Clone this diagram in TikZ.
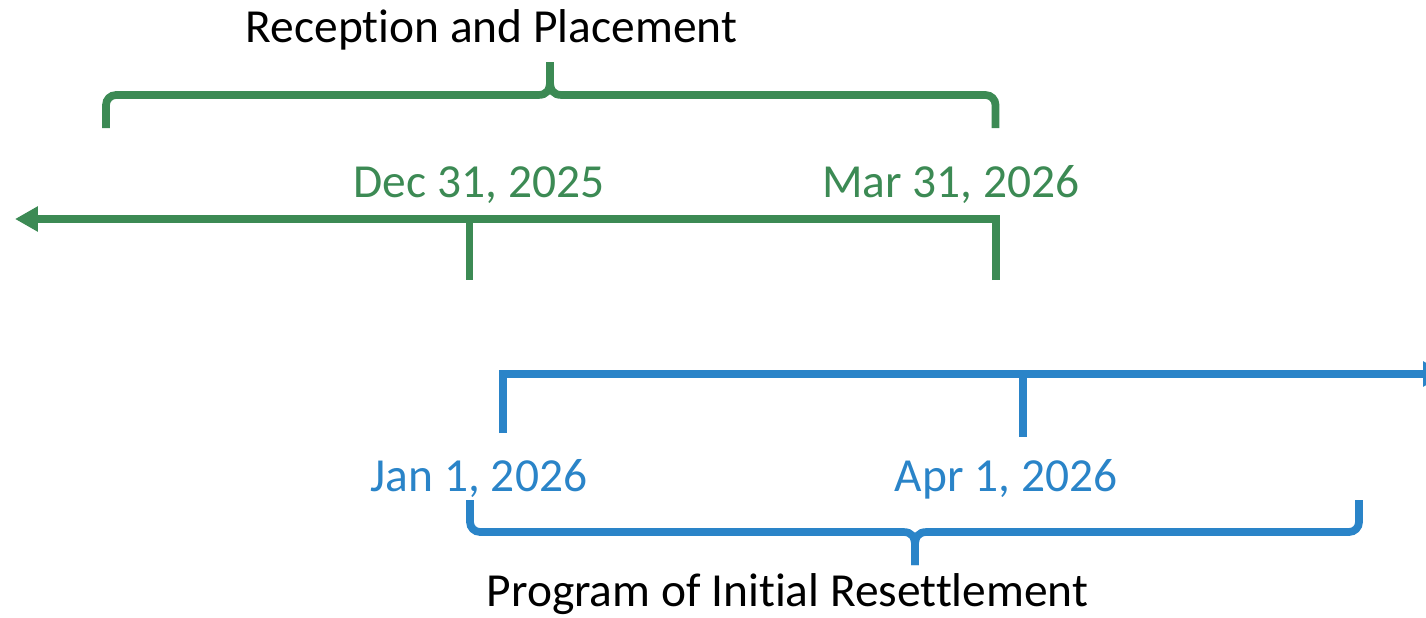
\documentclass[tikz,border=0pt]{standalone}
\usepackage{fontspec}
\setmainfont{Carlito}[RawFeature={-liga;-clig;-dlig}]
\usetikzlibrary{arrows.meta}
\definecolor{rpgreen}{RGB}{60,138,84}
\definecolor{pirblue}{RGB}{42,132,200}

\begin{document}
\begin{tikzpicture}[
  line width=2.2pt,
  lbl/.style={anchor=base,font=\fontsize{13.5}{16}\selectfont},
  tip/.style={-{Triangle[length=0.23cm,width=0.24cm]}}
  ]
\useasboundingbox (0,0) rectangle (14.26,6.17);

% Reception and Placement (green)
\coordinate (mar31end) at (9.96,3.37);
\coordinate (greenleft) at (0.15,3.98);
\coordinate (dec31top) at (4.695,3.98);
\coordinate (dec31bot) at (4.695,3.37);
\draw[rpgreen,tip] (mar31end) |- (greenleft);
\draw[rpgreen] (dec31top) -- (dec31bot);
\node[lbl,rpgreen] (dec31) at (4.79,4.20) {Dec 31, 2025};
\node[lbl,rpgreen] (mar31) at (9.51,4.20) {Mar 31, 2026};

% brace above
\draw[rpgreen] (1.06,4.89) -- (1.06,5.12) arc[start angle=180,end angle=90,radius=0.1]
  -- (5.38,5.22) .. controls (5.47,5.22) and (5.50,5.27) .. (5.50,5.36) -- (5.50,5.55);
\draw[rpgreen] (9.955,4.89) -- (9.955,5.12) arc[start angle=0,end angle=90,radius=0.1]
  -- (5.62,5.22) .. controls (5.53,5.22) and (5.50,5.27) .. (5.50,5.36) -- (5.50,5.55);
\node[lbl] (rptitle) at (4.915,5.75) {Reception and Placement};

% Program of Initial Resettlement (blue)
\coordinate (jan1end) at (5.03,1.84);
\coordinate (blueright) at (14.46,2.43);
\coordinate (apr1top) at (10.23,2.43);
\coordinate (apr1bot) at (10.23,1.80);
\draw[pirblue,tip] (jan1end) |- (blueright);
\draw[pirblue] (apr1top) -- (apr1bot);
\node[lbl,pirblue] (jan1) at (4.79,1.26) {Jan 1, 2026};
\node[lbl,pirblue] (apr1) at (10.06,1.26) {Apr 1, 2026};

% brace below
\draw[pirblue] (4.70,1.17) -- (4.70,0.95) arc[start angle=180,end angle=270,radius=0.1]
  -- (9.03,0.85) .. controls (9.12,0.85) and (9.15,0.80) .. (9.15,0.71) -- (9.15,0.52);
\draw[pirblue] (13.59,1.17) -- (13.59,0.95) arc[start angle=0,end angle=-90,radius=0.1]
  -- (9.27,0.85) .. controls (9.18,0.85) and (9.15,0.80) .. (9.15,0.71) -- (9.15,0.52);
\node[lbl] (pirtitle) at (7.875,0.11) {Program of Initial Resettlement};
\end{tikzpicture}
\end{document}
